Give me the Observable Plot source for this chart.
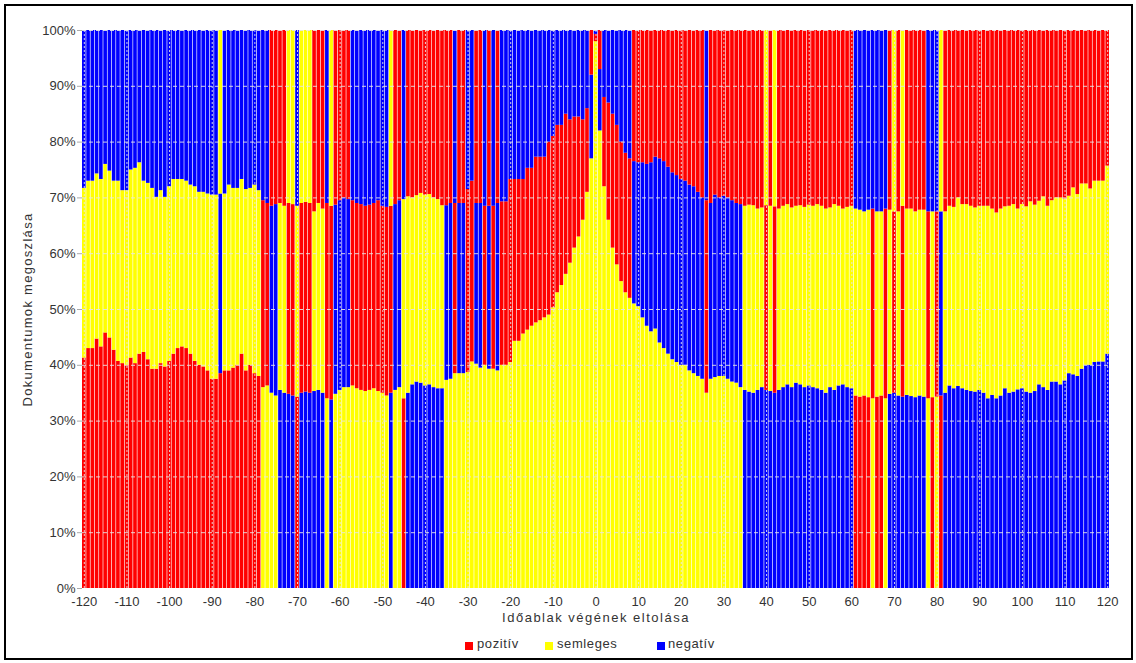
<!DOCTYPE html>
<html>
<head>
<meta charset="utf-8">
<script src="https://cdn.jsdelivr.net/npm/d3@7"></script>
<script src="https://cdn.jsdelivr.net/npm/@observablehq/plot@0.6"></script>
<style>
  body { margin: 0; background: #fff; font-family: "Liberation Sans", Arial, sans-serif; }
  #frame { position: absolute; left: 4px; top: 4px; width: 1125px; height: 652px; border: 2px solid #000; }
  #chart { position: absolute; left: 0; top: 0; }
  .sw { position: absolute; width: 8px; height: 8px; top: 642px; }
  .lt { position: absolute; top: 636px; font-size: 13px; letter-spacing: 0.6px; color: #333; }
</style>
</head>
<body>
<div id="frame"></div>
<div id="chart"></div>
<span class="sw" style="left:465px;background:#ff0000"></span><span class="lt" style="left:477px">pozitív</span>
<span class="sw" style="left:545px;background:#ffff00"></span><span class="lt" style="left:557px">semleges</span>
<span class="sw" style="left:657px;background:#0000ff"></span><span class="lt" style="left:668px">negatív</span>
<script>
// Shift of the window end (x), from -120 to 120
const shifts = d3.range(-120, 121);

// Cumulative share (%) at the top of the bottom segment, per shift
const lowerEdge = [
  41.3, 43, 43, 44.7, 43.3, 45.8, 44.9, 42.7, 40.7, 40.3,
  40, 41.3, 40.3, 42, 42.3, 41, 39.3, 39.3, 40.3, 39.7,
  40.7, 42, 43, 43.3, 43, 42, 40.7, 40, 39.7, 39,
  37.5, 37.5, 38.5, 39, 39, 39.5, 40, 42, 39, 40,
  38.5, 38, 36, 36.3, 35, 34.5, 35.5, 35, 34.8, 34.5,
  34.3, 35, 35.2, 35, 35.3, 35.5, 35, 34, 33.8, 34.8,
  35.5, 36, 36, 36.3, 35.8, 35.5, 35.3, 35.5, 35.8, 35.3,
  35, 34.5, 35, 35.5, 36, 34, 35, 36.5, 37, 36.8,
  36.3, 36.5, 36, 35.8, 35.8, 37.3, 37.5, 38.5, 38.5, 38.5,
  38.7, 40.6, 40.2, 39.5, 40, 39.3, 39.3, 39, 40, 40,
  40.5, 44.3, 44.3, 45.6, 46.3, 47, 47.6, 48, 48.5, 49,
  50.3, 53, 54.3, 56.3, 58.3, 61, 63, 66, 71, 77,
  98, 82, 72, 66, 61, 58, 55, 53, 52, 51,
  50.5, 48.5, 47, 46, 46.5, 44, 43, 42, 41, 40.5,
  40, 40, 39, 38.5, 38, 37.5, 35, 37.5, 37.8, 38,
  38, 37.5, 37, 36.8, 36, 35.5, 35.2, 35, 35.5, 36,
  35.5, 35.3, 35, 35.5, 36, 36.5, 36, 36.8, 36.5, 36,
  36.3, 36, 35.8, 35.5, 35, 36, 35.5, 36.3, 36.5, 36,
  35.8, 34.5, 34.3, 34.5, 34.2, 34, 34.3, 34.5, 34, 34.8,
  35, 34.5, 34.3, 34.6, 34.4, 34.2, 34.5, 34.3, 34, 34.2,
  34.3, 34.5, 35, 36.3, 35.8, 36.2, 35.8, 35.5, 35.3, 35.2,
  35.5, 35, 34, 34.6, 34, 34.5, 35.8, 35, 35.2, 35.6,
  35.8, 35.2, 35, 35.3, 36.5, 36, 35.5, 37, 37, 36.5,
  37.2, 38.5, 38.3, 38, 39.3, 40, 40, 40.5, 40.6, 40.6,
  42
];

// Cumulative share (%) at the top of the middle segment, per shift
const upperEdge = [
  71.7, 73, 73, 74.3, 73.3, 76, 74.8, 73, 73, 71.3,
  71.3, 75, 75.3, 76.3, 73, 72.6, 71.7, 70.1, 71.3, 70.1,
  72, 73.3, 73.3, 73.3, 73, 72.3, 72, 71, 71, 70.7,
  70.5, 70.5, 70.7, 70.7, 72.3, 71.7, 71.7, 73.3, 71.5, 71.7,
  72.3, 71.3, 69.5, 69, 68.5, 68.8, 69, 68.5, 69, 68.8,
  68.5, 69, 69.2, 69, 67.5, 69, 68, 69, 68.5, 68.7,
  69.5, 70, 69.7, 69.5, 69, 68.8, 68.5, 68.7, 69, 69.5,
  68.5, 68.3, 68.5, 68.8, 69.5, 69.7, 70.2, 70, 70.4, 70.8,
  70.5, 70.6, 70, 69.7, 68.6, 68.6, 69, 69, 69, 69,
  71.5, 73, 69, 69, 68.5, 68.5, 68.5, 69, 69.3, 69.3,
  73.3, 73.3, 73.3, 73.3, 75.3, 75.3, 77.3, 77.3, 77.3, 80,
  81, 83, 83, 85, 84, 84.5, 84.5, 84, 86, 92,
  99.3, 93, 88, 87, 85, 83, 80, 78, 77, 76.5,
  76.3, 76.3, 76, 76.3, 77.3, 77, 76.5, 75.5, 74.5, 74,
  73.3, 73, 72.3, 72, 71, 70, 69.5, 69, 70.5, 70,
  70.3, 70, 69.5, 69, 68.8, 68.5, 68.7, 68.6, 68, 68.2,
  68.6, 68.5, 68.4, 68, 68.5, 68.8, 68.2, 68.5, 68.6, 68.3,
  68.7, 68.5, 68.8, 68.5, 68, 68.2, 68.8, 68.5, 68, 68.3,
  68.5, 68, 67.8, 67.5, 67.8, 68, 67.5, 67.5, 68, 67.8,
  67.5, 67.5, 68.5, 68, 68, 67.5, 67.8, 67.8, 67.5, 67.5,
  67.5, 67.5, 67.5, 68.5, 68.3, 70, 68.8, 68.8, 68.5, 68.2,
  68.5, 68.5, 68.5, 68, 67.3, 68, 68.4, 68.5, 68.8, 68,
  68.8, 68.4, 69.3, 68.7, 69.4, 70.2, 68.5, 69.5, 70, 70,
  69.8, 70.3, 71.8, 70.6, 72.5, 72.5, 71.6, 73, 73, 73,
  75.7
];

// Sentiment of the bottom, middle and top segment of each bar
// (p = pozitív, s = semleges, n = negatív)
const segmentClasses = (
  "psn psn psn psn psn psn psn psn psn psn " +
  "psn psn psn psn psn psn psn psn psn psn " +
  "psn psn psn psn psn psn psn psn psn psn " +
  "psn psn pns psn psn psn psn psn psn psn " +
  "psn psn spn spn snp snp nsp nsp nps nps " +
  "psn nps nps nps nsp nsp nsp spn nps snp " +
  "snp snp snp spn spn spn spn spn spn spn " +
  "spn spn nps snp snp psn nsp nsp nsp nsp " +
  "nsp nsp nsp nsp nsp snp snp spn snp snp " +
  "spn spn snp snp spn snp spn snp spn spn " +
  "spn spn spn spn spn spn spn spn spn spn " +
  "spn spn spn spn spn spn spn spn spn snp " +
  "spn snp spn spn spn spn spn spn spn snp " +
  "snp snp snp snp snp snp snp snp snp snp " +
  "snp snp snp snp snp snp spn snp snp snp " +
  "snp snp snp snp snp nsp nsp nsp nsp nsp " +
  "nps nsp nps nsp nsp nsp nsp nsp nsp nsp " +
  "nsp nsp nsp nsp nsp nsp nsp nsp nsp nsp " +
  "nsp psn psn psn psn spn psn psn spn nsp " +
  "nps nsp nps nsp nsp nsp nsp nsp spn psn " +
  "spn pns nsp nsp nsp nsp nsp nsp nsp nsp " +
  "nsp nsp nsp nsp nsp nsp nsp nsp nsp nsp " +
  "nsp nsp nsp nsp nsp nsp nsp nsp nsp nsp " +
  "nsp nsp nsp nsp nsp nsp nsp nsp nsp nsp " +
  "nsp"
).split(" ");

const sentimentKeys = ["p", "s", "n"];
const sentimentColors = ["#ff0000", "#ffff00", "#0000ff"];

const xTicks = d3.range(-120, 121, 10);
const yTicks = d3.range(0, 101, 10);

// One row per bar segment, listed bottom to top so the stack keeps that order
const segments = [];
shifts.forEach((x, i) => {
  const shares = [lowerEdge[i], upperEdge[i] - lowerEdge[i], 100 - upperEdge[i]];
  for (let level = 0; level < 3; level++) {
    segments.push({x, level, sentiment: segmentClasses[i][level], share: shares[level]});
  }
});

const chart = Plot.plot({
  width: 1136,
  height: 630,
  marginLeft: 82,
  marginRight: 27,
  marginTop: 30,
  marginBottom: 42,
  style: {fontFamily: "Liberation Sans, Arial, sans-serif", fontSize: "13px", color: "#333", background: "transparent"},
  x: {type: "band", domain: shifts, paddingInner: 0.15, paddingOuter: 0},
  y: {domain: [0, 100]},
  color: {domain: sentimentKeys, range: sentimentColors},
  marks: [
    Plot.barY(segments, {x: "x", y: "share", z: "level", fill: "sentiment", order: null}),
    Plot.ruleY(yTicks.slice(1), {stroke: "#e6e6e6", strokeDasharray: "4,3", strokeOpacity: 0.9}),
    Plot.ruleX(xTicks, {stroke: "#e6e6e6", strokeDasharray: "2,2", strokeOpacity: 0.9}),
    Plot.axisY(yTicks, {tickFormat: d => d + "%", tickSize: 5, tickPadding: 2, stroke: "#aaa", fontSize: 13,
      label: null}),
    Plot.text(["Dokumentumok megoszlása"], {frameAnchor: "left", textAnchor: "middle", dx: -55, rotate: -90,
      fontSize: 13, fill: "#333"}),
    Plot.axisX(xTicks, {tickSize: 0, tickPadding: 8, tickFormat: d => String(d), fontSize: 13,
      label: null}),
    Plot.text(["Időablak végének eltolása"], {frameAnchor: "bottom", textAnchor: "middle", dy: 33,
      fontSize: 13, fill: "#333"})
  ]
});
document.getElementById("chart").appendChild(chart);
// widen the axis titles a little, as in the original export
chart.querySelectorAll("text").forEach(t => {
  if (t.textContent === "Dokumentumok megoszlása") t.setAttribute("letter-spacing", "1.3");
  if (t.textContent === "Időablak végének eltolása") t.setAttribute("letter-spacing", "1.5");
});
</script>
</body>
</html>
